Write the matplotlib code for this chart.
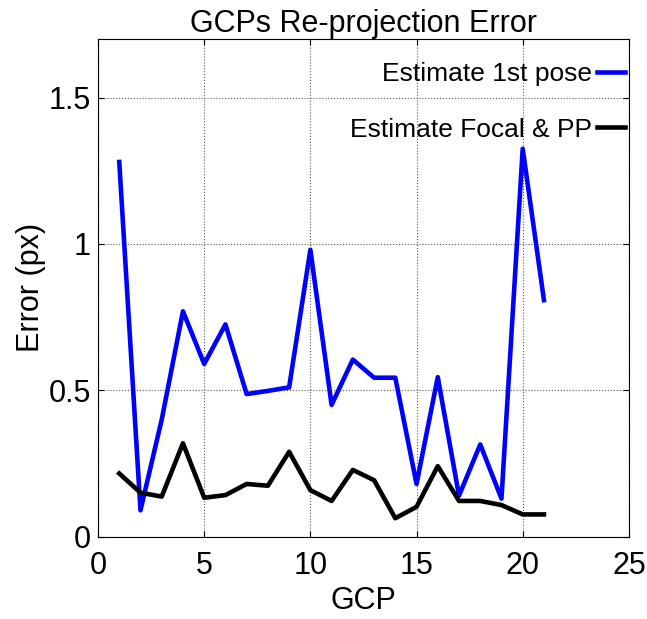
import numpy as np
import matplotlib.pyplot as plt

plt.rcParams['font.family'] = ['Liberation Sans', 'DejaVu Sans']

# Re-projection error per ground control point
gcp = np.arange(1, 22)
err_first_pose = [1.28, 0.09, 0.40, 0.77, 0.59, 0.725, 0.487, 0.498, 0.51, 0.98,
                  0.45, 0.605, 0.543, 0.543, 0.18, 0.545, 0.14, 0.315, 0.13, 1.325, 0.808]
err_focal_pp = [0.216, 0.15, 0.137, 0.319, 0.133, 0.142, 0.18, 0.174, 0.29, 0.159,
                0.122, 0.228, 0.193, 0.063, 0.102, 0.241, 0.122, 0.122, 0.108, 0.076, 0.076]

fig = plt.figure(figsize=(6.47, 6.19), dpi=100)
ax = fig.add_axes([0.1515, 0.133, 0.8205, 0.804])

ax.plot(gcp, err_first_pose, color='#0000ff', lw=3.3, label='Estimate 1st pose')
ax.plot(gcp, err_focal_pp, color='black', lw=3.3, label='Estimate Focal & PP')

ax.set_xlim(0, 25)
ax.set_ylim(0, 1.7)
ax.set_xticks([0, 5, 10, 15, 20, 25])
ax.set_yticks([0, 0.5, 1, 1.5])
ax.set_yticklabels(['0', '0.5', '1', '1.5'])
ax.tick_params(direction='in', labelsize=22, top=True, right=True, length=4)
ax.tick_params(axis='x', pad=10)
ax.tick_params(axis='y', pad=5)
ax.grid(True, linestyle=':', color='#555555', lw=0.8)

ax.set_xlabel('GCP', fontsize=22, labelpad=4)
ax.set_ylabel('Error (px)', fontsize=22, labelpad=2)
ax.set_title('GCPs Re-projection Error', fontsize=22, pad=5)

# legend sits flush against the top-right corner, handles to the right of the text
ax.legend(loc='upper right', bbox_to_anchor=(1.0, 0.962), frameon=False,
          markerfirst=False, fontsize=19, handlelength=1.05, handletextpad=0.2,
          labelspacing=1.2, borderaxespad=0.0, borderpad=0.15)

fig.savefig('out.png', dpi=100)
